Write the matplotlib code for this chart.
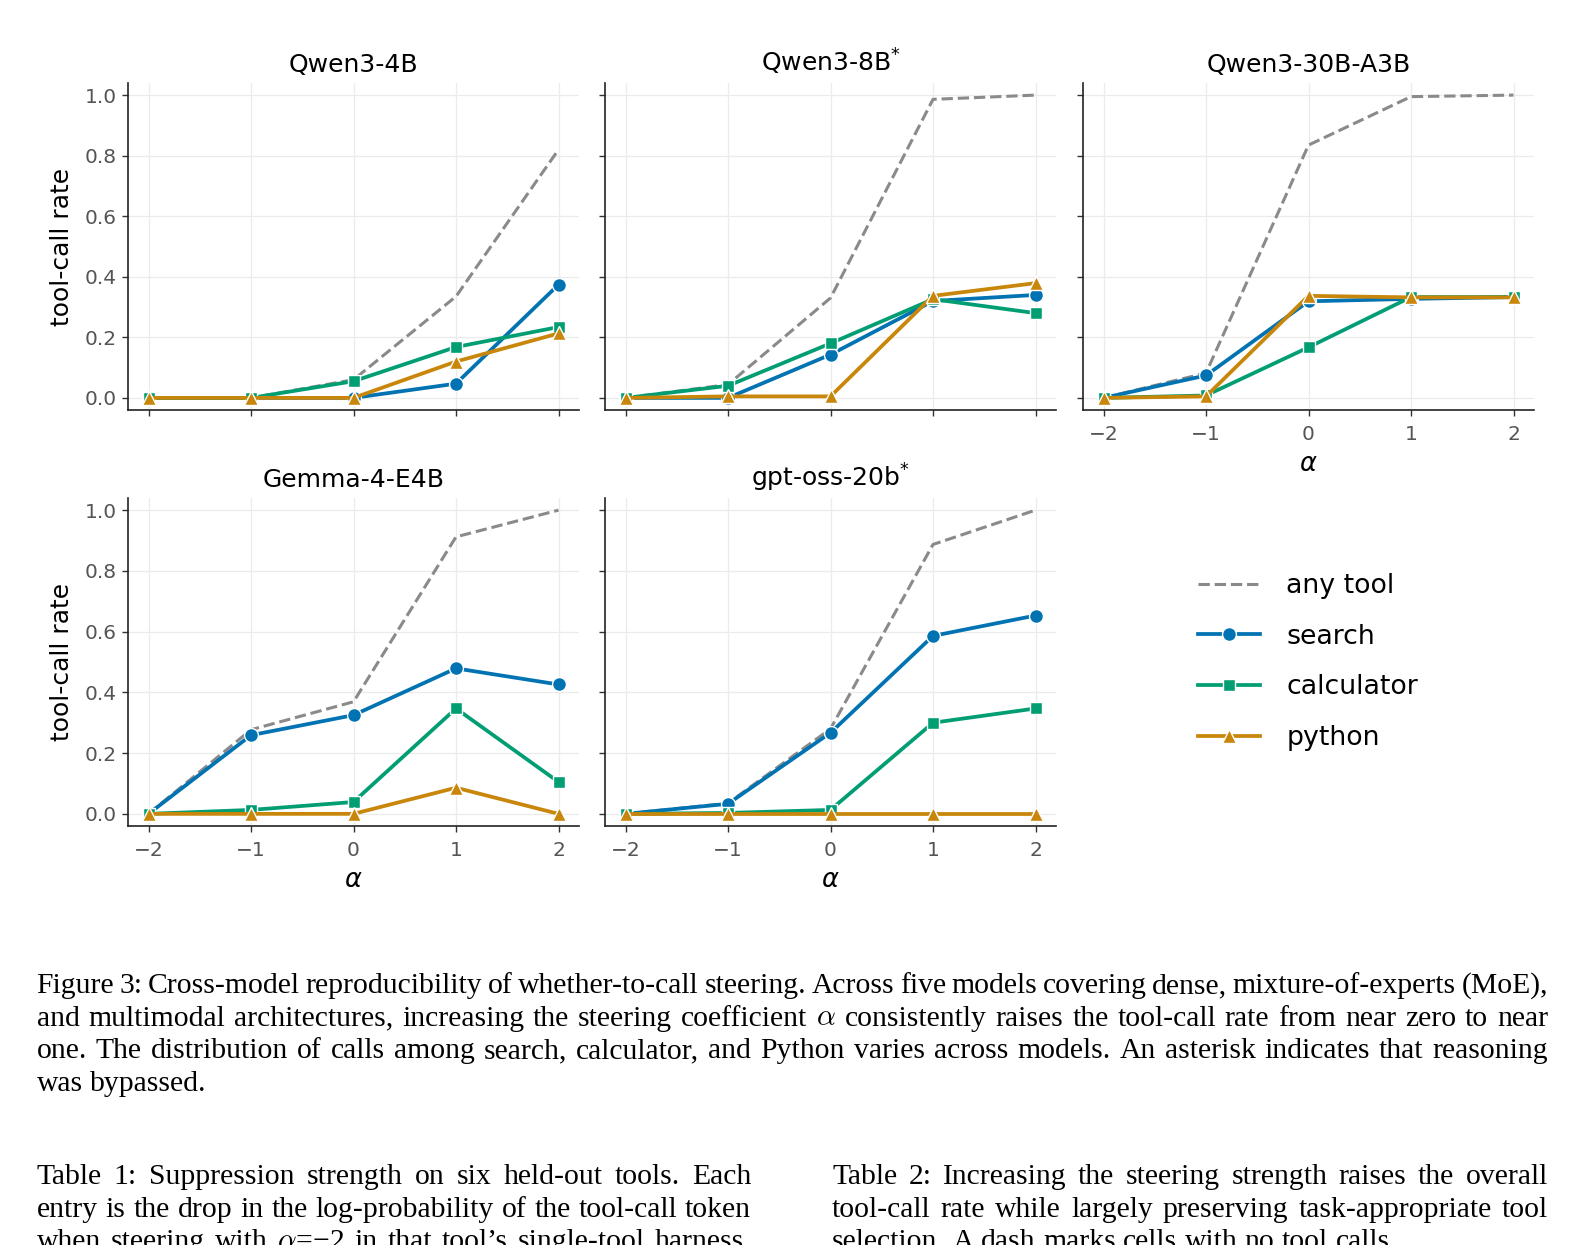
import matplotlib
matplotlib.use('Agg')
import matplotlib.pyplot as plt
from matplotlib.lines import Line2D

W, H = 1585, 1245
DPI = 100

# ---------------- data ----------------
alpha = [-2, -1, 0, 1, 2]
models = ['Qwen3-4B', 'Qwen3-8B$^{*}$', 'Qwen3-30B-A3B', 'Gemma-4-E4B', 'gpt-oss-20b$^{*}$']

any_tool = [
    [0.0, 0.0, 0.06, 0.335, 0.82],
    [0.0, 0.044, 0.33, 0.986, 1.0],
    [0.0, 0.082, 0.835, 0.995, 1.0],
    [0.0, 0.277, 0.369, 0.912, 1.0],
    [0.0, 0.035, 0.28, 0.887, 1.0],
]
search = [
    [0.0, 0.0, 0.0, 0.047, 0.374],
    [0.0, 0.0, 0.143, 0.32, 0.34],
    [0.0, 0.074, 0.319, 0.327, 0.333],
    [0.0, 0.259, 0.325, 0.479, 0.426],
    [0.0, 0.033, 0.267, 0.586, 0.653],
]
calculator = [
    [0.0, 0.0, 0.055, 0.168, 0.234],
    [0.0, 0.04, 0.18, 0.326, 0.28],
    [0.0, 0.008, 0.167, 0.333, 0.333],
    [0.0, 0.013, 0.039, 0.347, 0.105],
    [0.0, 0.003, 0.013, 0.30, 0.347],
]
python = [
    [0.0, 0.0, 0.0, 0.12, 0.213],
    [0.0, 0.005, 0.005, 0.337, 0.379],
    [0.0, 0.005, 0.337, 0.332, 0.332],
    [0.0, 0.0, 0.0, 0.086, 0.0],
    [0.0, 0.0, 0.0, 0.0, 0.0],
]
y_ticks = [0.0, 0.2, 0.4, 0.6, 0.8, 1.0]
x_ticks = [-2, -1, 0, 1, 2]
legend_labels = ['any tool', 'search', 'calculator', 'python']

fig_caption = [
    "Figure 3: Cross-model reproducibility of whether-to-call steering. Across five models covering dense, mixture-of-experts (MoE),",
    "and multimodal architectures, increasing the steering coefficient $\\alpha$ consistently raises the tool-call rate from near zero to near",
    "one. The distribution of calls among search, calculator, and Python varies across models. An asterisk indicates that reasoning",
    "was bypassed.",
]
table1_caption = [
    "Table 1: Suppression strength on six held-out tools. Each",
    "entry is the drop in the log-probability of the tool-call token",
    "when steering with $\\alpha$=\u22122 in that tool\u2019s single-tool harness.",
]
table2_caption = [
    "Table 2: Increasing the steering strength raises the overall",
    "tool-call rate while largely preserving task-appropriate tool",
    "selection. A dash marks cells with no tool calls.",
]

# ---------------- style ----------------
GRAY = '#8a8a8a'
BLUE = '#0173B2'
GREEN = '#029E73'
ORANGE = '#C8860A'
TICKC = '#555555'

plt.rcParams['font.family'] = ['DejaVu Sans']

fig = plt.figure(figsize=(W / DPI, H / DPI), dpi=DPI)

def px_axes(left, top, right, bottom):
    return fig.add_axes([left / W, 1 - bottom / H, (right - left) / W, (bottom - top) / H])

cols = [(128, 579), (605, 1056), (1083, 1534)]
rows = [(83, 410), (498, 826)]
boxes = [(cols[0], rows[0]), (cols[1], rows[0]), (cols[2], rows[0]),
         (cols[0], rows[1]), (cols[1], rows[1])]

LW = 2.7
MS = 10
for i, ((l, r), (t, b)) in enumerate(boxes):
    ax = px_axes(l, t, r, b)
    ax.set_xlim(-2.2, 2.2)
    ax.set_ylim(-0.04, 1.04)
    ax.set_xticks(x_ticks)
    ax.set_yticks(y_ticks)
    ax.grid(True, color='#ebebeb', linewidth=0.9)
    ax.set_axisbelow(True)
    for s in ['top', 'right']:
        ax.spines[s].set_visible(False)
    for s in ['left', 'bottom']:
        ax.spines[s].set_linewidth(1.2)
        ax.spines[s].set_color('#222222')
    ax.tick_params(direction='out', length=4.5, width=1.0, color='#333333',
                   labelsize=14.5, labelcolor=TICKC)
    ax.tick_params(axis='x', pad=6)
    ax.tick_params(axis='y', pad=3.5)
    ax.plot(alpha, any_tool[i], ls='--', color=GRAY, lw=2.2, zorder=2)
    ax.plot(alpha, search[i], color=BLUE, lw=LW, marker='o', ms=MS,
            mec='white', mew=1.0, zorder=3)
    ax.plot(alpha, calculator[i], color=GREEN, lw=LW, marker='s', ms=MS - 1,
            mec='white', mew=1.0, zorder=4)
    ax.plot(alpha, python[i], color=ORANGE, lw=LW, marker='^', ms=MS,
            mec='white', mew=1.0, zorder=5)
    ax.set_title(models[i], fontsize=18, pad=8)
    if i in (0, 3):
        ax.set_ylabel('tool-call rate', fontsize=18, labelpad=8)
    else:
        ax.tick_params(labelleft=False)
    if i in (2, 3, 4):
        ax.set_xlabel(r'$\alpha$', fontsize=18.5, labelpad=5.5)
    else:
        ax.tick_params(labelbottom=False)

handles = [
    Line2D([], [], ls='--', color=GRAY, lw=2.2),
    Line2D([], [], color=BLUE, lw=LW, marker='o', ms=MS, mec='white', mew=1.0),
    Line2D([], [], color=GREEN, lw=LW, marker='s', ms=MS - 1, mec='white', mew=1.0),
    Line2D([], [], color=ORANGE, lw=LW, marker='^', ms=MS, mec='white', mew=1.0),
]
fig.legend(handles, legend_labels, loc='center left',
           bbox_to_anchor=(1198 / W, 1 - 662 / H), frameon=False,
           fontsize=19.3, handlelength=2.3, handletextpad=1.0,
           labelspacing=0.92, borderaxespad=0, borderpad=0)

# ---------------- captions ----------------
FS = 21.3
renderer = fig.canvas.get_renderer()

def place_line(line, x0, x1, ybase, justify=True):
    words = line.split(' ')
    texts = [fig.text(0, 0, w, fontsize=FS, family='Liberation Serif',
                      va='baseline', ha='left', math_fontfamily='cm', color='black')
             for w in words]
    widths = [tt.get_window_extent(renderer).width for tt in texts]
    if justify and len(words) > 1:
        gap = (x1 - x0 - sum(widths)) / (len(words) - 1)
    else:
        gap = 0.25 * FS * DPI / 72
    x = x0
    for tt, w in zip(texts, widths):
        tt.set_position((x / W, 1 - ybase / H))
        x += w + gap

LS = 32.6
for k, line in enumerate(fig_caption):
    place_line(line, 36.5, 1548, 993 + k * LS, justify=(k < len(fig_caption) - 1))
for k, line in enumerate(table1_caption):
    place_line(line, 36.5, 751, 1184 + k * LS, justify=True)
for k, line in enumerate(table2_caption):
    place_line(line, 832, 1548, 1184 + k * LS, justify=(k < len(table2_caption) - 1))

fig.savefig('out.png', dpi=DPI)
